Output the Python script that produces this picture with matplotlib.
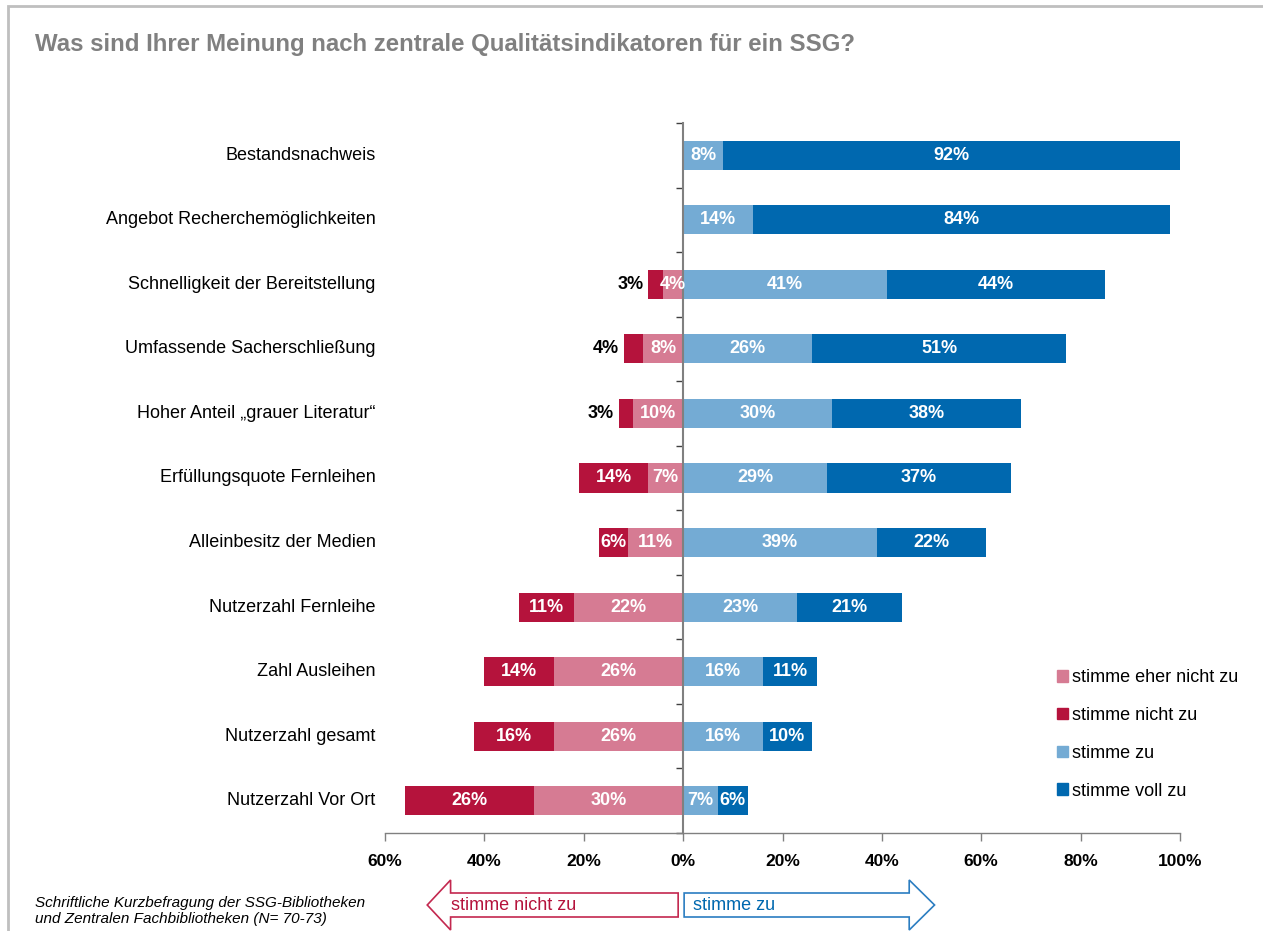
import matplotlib
matplotlib.use("Agg")
import matplotlib.pyplot as plt
import numpy as np
from matplotlib.patches import Patch, Polygon, Rectangle
from matplotlib.transforms import blended_transform_factory

plt.rcParams['font.family'] = ['Liberation Sans', 'DejaVu Sans']

categories = ["Bestandsnachweis", "Angebot Recherchemöglichkeiten",
              "Schnelligkeit der Bereitstellung", "Umfassende Sacherschließung",
              "Hoher Anteil „grauer Literatur“", "Erfüllungsquote Fernleihen",
              "Alleinbesitz der Medien", "Nutzerzahl Fernleihe", "Zahl Ausleihen",
              "Nutzerzahl gesamt", "Nutzerzahl Vor Ort"]
eher_nicht = [0, 0, 4, 8, 10, 7, 11, 22, 26, 26, 30]
nicht = [0, 0, 3, 4, 3, 14, 6, 11, 14, 16, 26]
zu = [8, 14, 41, 26, 30, 29, 39, 23, 16, 16, 7]
voll = [92, 84, 44, 51, 38, 37, 22, 21, 11, 10, 6]
series_names = ["stimme eher nicht zu", "stimme nicht zu", "stimme zu", "stimme voll zu"]
xticks = [-60, -40, -20, 0, 20, 40, 60, 80, 100]

c_pink = '#D67B93'
c_red = '#B5133C'
c_lblue = '#74ABD4'
c_dblue = '#0068AF'

W, H = 1263, 931
fig = plt.figure(figsize=(W / 100, H / 100), dpi=100)
ax = fig.add_axes([385 / W, 1 - 833 / H, (1180 - 385) / W, (833 - 123) / H])

y = np.arange(len(categories))
en = np.array(eher_nicht)
ni = np.array(nicht)
z = np.array(zu)
v = np.array(voll)
h = 0.45

ax.barh(y, -en, height=h, color=c_pink)
ax.barh(y, -ni, left=-en, height=h, color=c_red)
ax.barh(y, z, height=h, color=c_lblue)
ax.barh(y, v, left=z, height=h, color=c_dblue)

lab = dict(fontsize=13, fontweight='bold', va='center')
for i in y:
    if en[i] > 0:
        ax.text(-en[i] / 2, i, f"{en[i]}%", color='white', ha='center', **lab)
    if ni[i] > 0:
        if ni[i] < 5:
            ax.text(-en[i] - ni[i] - 1.0, i, f"{ni[i]}%", color='black', ha='right', **lab)
        else:
            ax.text(-en[i] - ni[i] / 2, i, f"{ni[i]}%", color='white', ha='center', **lab)
    if z[i] > 0:
        ax.text(z[i] / 2, i, f"{z[i]}%", color='white', ha='center', **lab)
    if v[i] > 0:
        ax.text(z[i] + v[i] / 2, i, f"{v[i]}%", color='white', ha='center', **lab)

ax.set_xlim(-60, 100)
ax.set_ylim(len(categories) - 0.5, -0.5)

for s in ['top', 'right']:
    ax.spines[s].set_visible(False)
ax.spines['left'].set_position(('data', 0))
ax.spines['left'].set_color('#808080')
ax.spines['left'].set_linewidth(1.5)
ax.spines['bottom'].set_color('#808080')
ax.spines['bottom'].set_linewidth(1.0)
ax.set_yticks(np.arange(-0.5, len(categories) + 0.5, 1))
ax.set_yticklabels([])
ax.tick_params(axis='y', direction='out', length=5, width=1, color='#404040')
ax.set_xticks(xticks)
ax.set_xticklabels([f"{abs(t)}%" for t in xticks], fontsize=12.5, fontweight='bold')
ax.tick_params(axis='x', direction='out', length=6, width=1, color='#808080', pad=9)

ylab = blended_transform_factory(ax.transAxes, ax.transData)
for i, c in enumerate(categories):
    ax.text(-0.012, i, c, transform=ylab, ha='right', va='center', fontsize=13)

handles = [Patch(color=c) for c in [c_pink, c_red, c_lblue, c_dblue]]
fig.legend(handles, series_names, loc='upper left', bbox_to_anchor=(1041 / W, 1 - 653 / H),
           frameon=False, fontsize=13, handlelength=0.6, handleheight=0.6,
           handletextpad=0.2, labelspacing=1.15)

fig.text(35 / W, 1 - 44 / H, "Was sind Ihrer Meinung nach zentrale Qualitätsindikatoren für ein SSG?",
         fontsize=17.3, fontweight='bold', color='#808080', va='center')
fig.text(35 / W, 1 - 911 / H, "Schriftliche Kurzbefragung der SSG-Bibliotheken\nund Zentralen Fachbibliotheken (N= 70-73)",
         fontsize=11, style='italic', va='center', linespacing=1.1)

# frame around the slide
fig.add_artist(Rectangle((8 / W, -0.05), 1.1, 1 - 6 / H + 0.05, transform=fig.transFigure,
                         fill=False, edgecolor='#BFBFBF', linewidth=2))

# direction arrows under the axis
tr = blended_transform_factory(ax.transData, fig.transFigure)
yb_top, yb_bot = 1 - 893 / H, 1 - 917 / H
yh_top, yh_bot = 1 - 880 / H, 1 - 930 / H
ymid = 1 - 905 / H
left_arrow = [(-1, yb_top), (-46.8, yb_top), (-46.8, yh_top), (-51.5, ymid),
              (-46.8, yh_bot), (-46.8, yb_bot), (-1, yb_bot)]
right_arrow = [(0.2, yb_top), (45.5, yb_top), (45.5, yh_top), (50.6, ymid),
               (45.5, yh_bot), (45.5, yb_bot), (0.2, yb_bot)]
ax.add_patch(Polygon(left_arrow, closed=True, fill=False, edgecolor='#C3284F',
                     linewidth=1.2, transform=tr, clip_on=False))
ax.add_patch(Polygon(right_arrow, closed=True, fill=False, edgecolor='#2B7DC1',
                     linewidth=1.2, transform=tr, clip_on=False))
ax.text(-46.8, ymid, "stimme nicht zu", transform=tr, color='#B5133C', fontsize=13, va='center')
ax.text(2, ymid, "stimme zu", transform=tr, color='#0068AF', fontsize=13, va='center')

fig.savefig("out.png", dpi=100)
